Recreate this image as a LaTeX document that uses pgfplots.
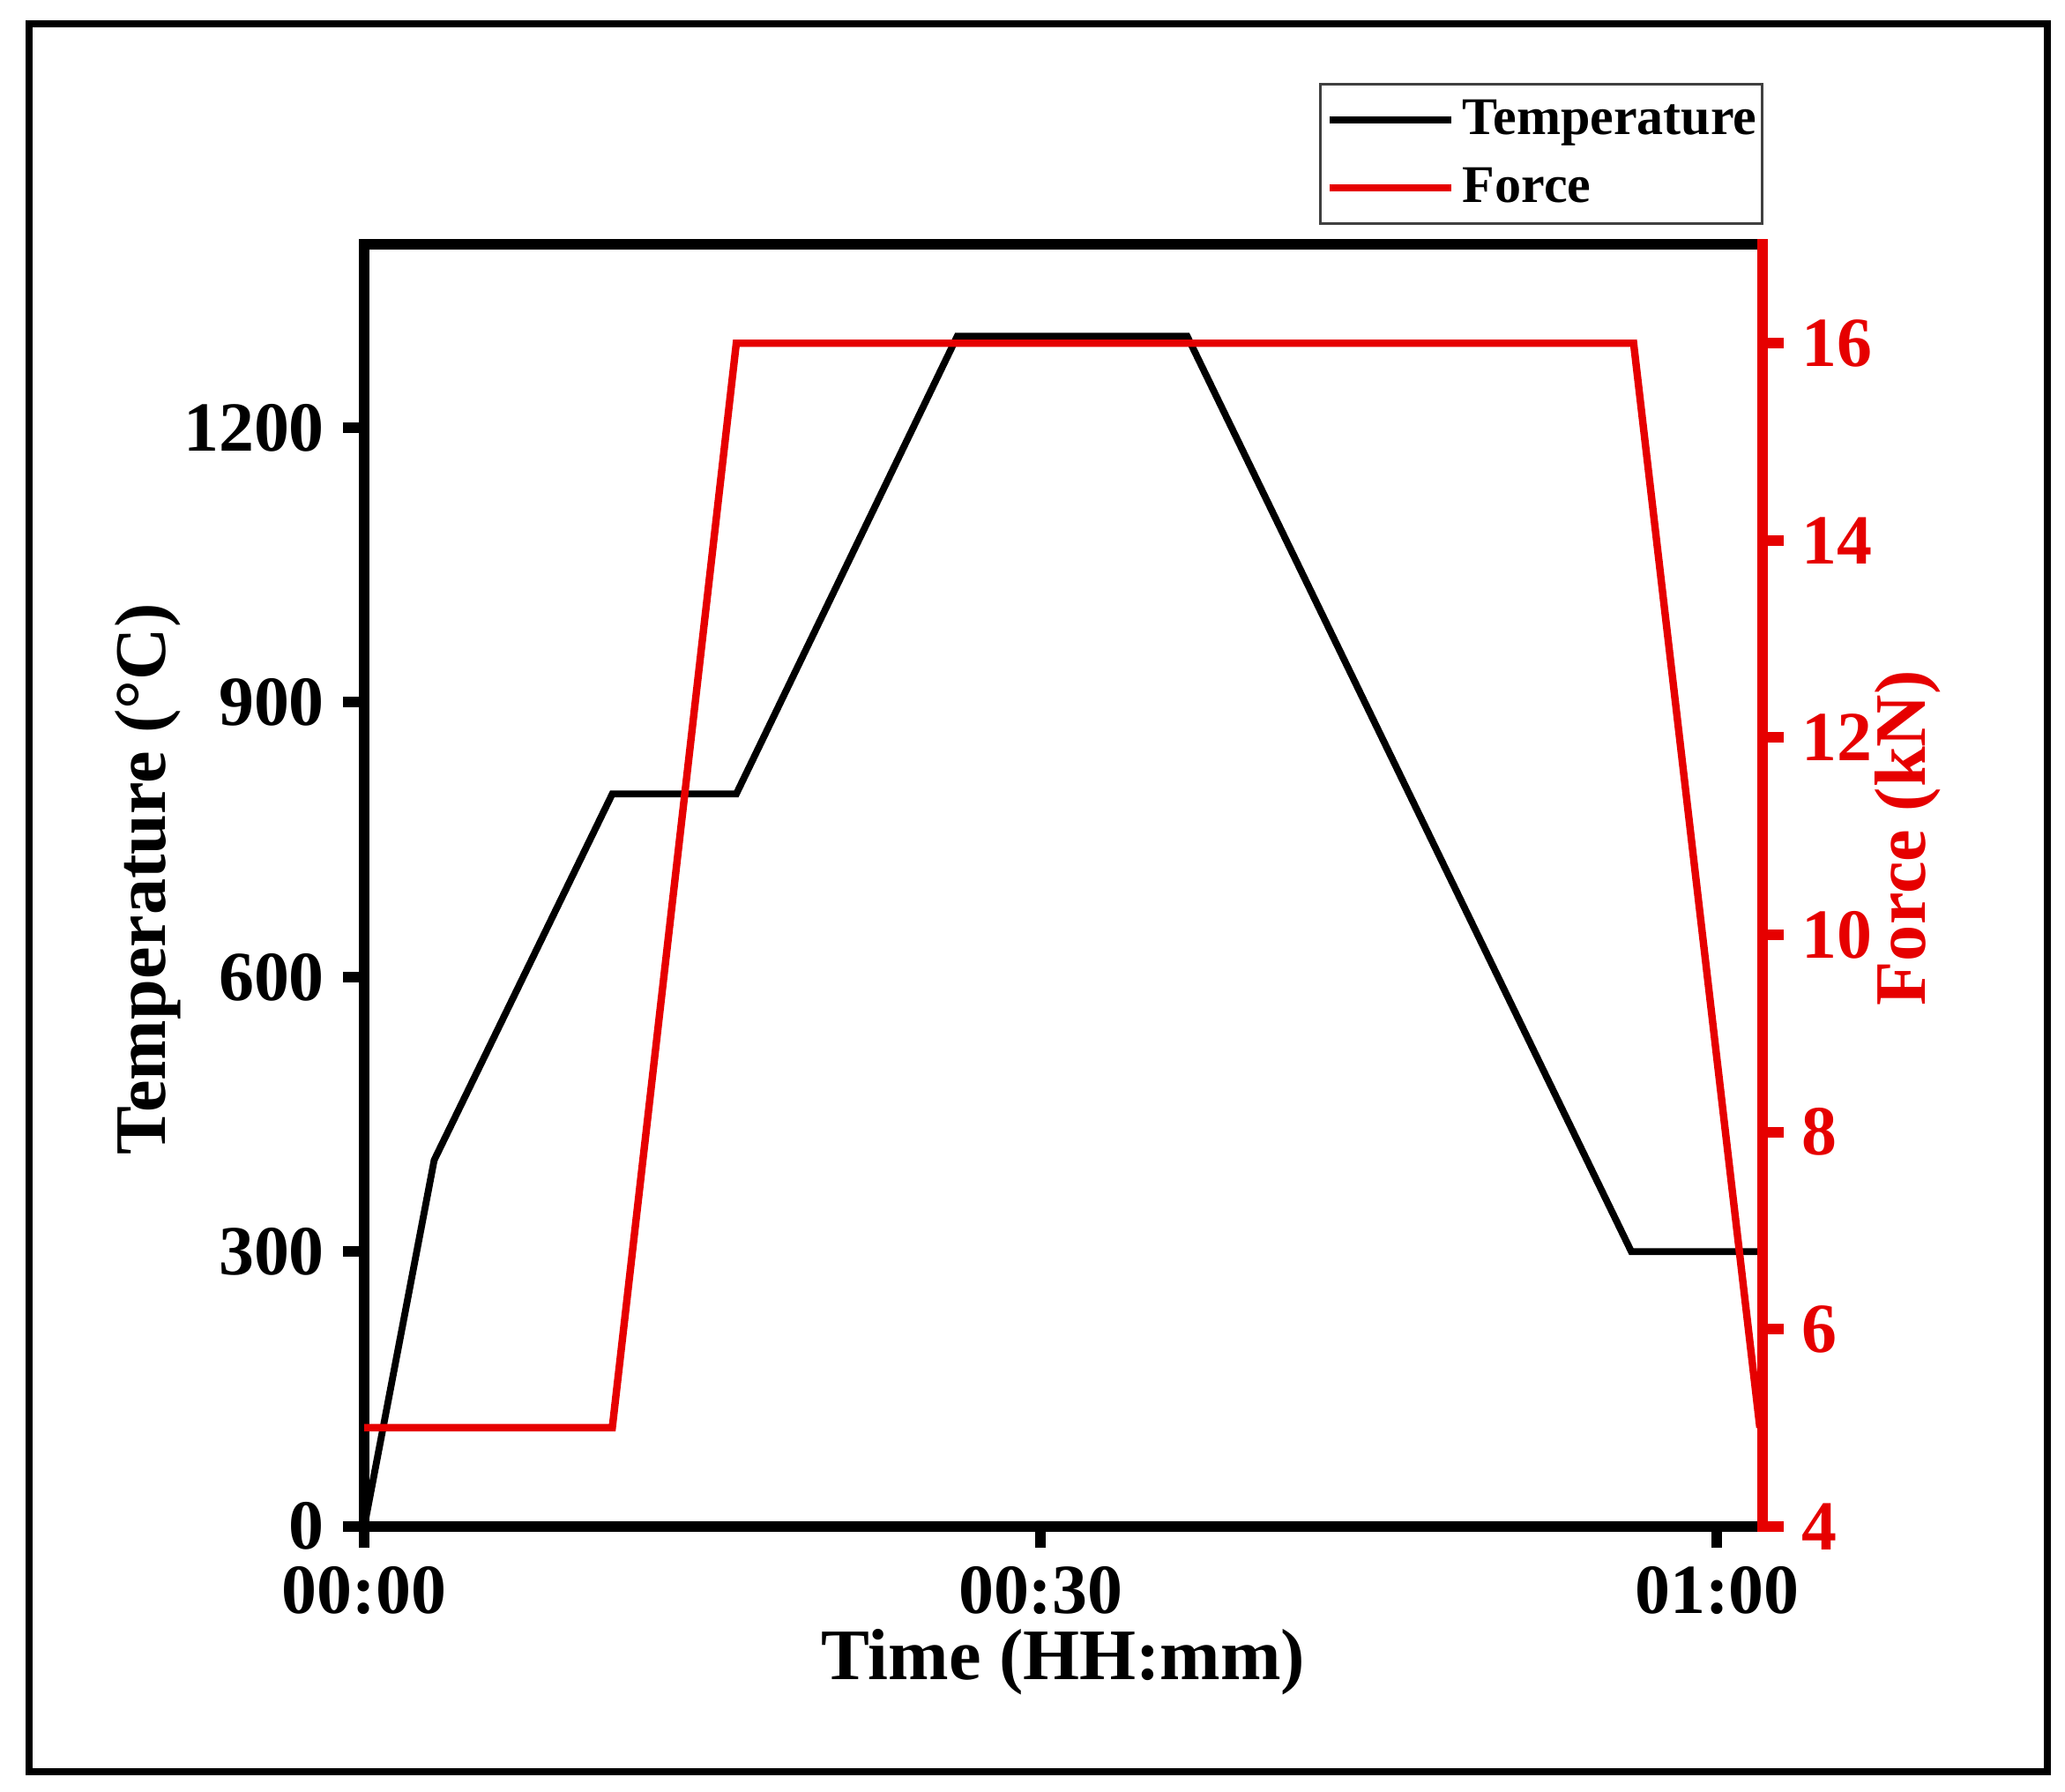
\documentclass[border=0pt]{standalone}
\usepackage{fontspec}
\setmainfont{Liberation Serif}
\usepackage{pgfplots}
\pgfplotsset{compat=1.18}
\definecolor{fred}{RGB}{230,0,0}

\begin{document}
\begin{tikzpicture}
\useasboundingbox (-68.8pt,-50.1pt) rectangle (321.2pt,288.2pt);
\fill[white] (-68.8pt,-50.1pt) rectangle (321.2pt,288.2pt);
\draw[line width=1.3pt] (-63.3pt,-46.3pt) rectangle (317.9pt,283.7pt);
\begin{axis}[
  name=ax1,
  at={(0pt,0pt)}, anchor=south west,
  scale only axis, width=264pt, height=242pt,
  xmin=0, xmax=62, ymin=0, ymax=1400,
  axis x line*=bottom, axis y line*=left,
  axis line style={line width=2pt, line cap=rect},
  xtick={0,30,60}, xticklabels={00:00,00:30,01:00},
  ytick={0,300,600,900,1200},
  minor tick num=0,
  tick align=outside, tick style={line width=2pt, black}, major tick length=4pt,
  tick label style={font=\fontsize{13.3}{14}\selectfont\bfseries},
  /pgf/number format/assume math mode=true,
  /pgf/number format/1000 sep={},
  xlabel={Time (HH:mm)}, ylabel={Temperature (°C)},
  every axis x label/.style={at={(axis description cs:0.5,-0.1195)}, anchor=base,
    font=\fontsize{13.7}{15}\selectfont\bfseries},
  every axis y label/.style={at={(axis description cs:-0.1549,0.505)}, rotate=90, anchor=center,
    font=\fontsize{13.7}{15}\selectfont\bfseries},
  legend style={at={(axis description cs:1,1)}, anchor=south east, yshift=3.7pt, xshift=0.3pt,
    draw=black!75, line width=0.6pt, font=\fontsize{10}{11}\selectfont\bfseries,
    inner xsep=1pt, inner ysep=0.25pt, column sep=1.5pt, row sep=0pt,
    nodes={inner sep=0pt, text height=9.2pt, text depth=3.7pt}},
  legend cell align=left,
  legend image code/.code={\draw[#1] (0pt,0pt) -- (23pt,0pt);},
]
\addplot[black, line width=1.3pt] coordinates {
(0,0) (3.1,400) (11.0,800) (16.5,800) (26.3,1300) (36.5,1300) (56.2,300) (62,300)};
\addlegendentry{Temperature}
\addlegendimage{fred, line width=1.4pt}
\addlegendentry{Force}
\end{axis}
\draw[line width=2pt, line cap=rect] (ax1.north west) -- (ax1.north east);
\begin{axis}[
  at={(0pt,0pt)}, anchor=south west,
  scale only axis, width=264pt, height=242pt,
  xmin=0, xmax=62, ymin=4, ymax=17,
  axis x line=none, axis y line*=right,
  axis line style={line width=2pt, fred, line cap=rect},
  ytick={4,6,8,10,12,14,16},
  minor tick num=0,
  tick align=outside, ytick style={line width=2pt, fred}, major tick length=4pt,
  yticklabel style={fred, font=\fontsize{13.3}{14}\selectfont\bfseries},
  /pgf/number format/assume math mode=true,
  ylabel={Force (kN)},
  every axis y label/.style={at={(axis description cs:1.1042,0.537)}, rotate=90, anchor=center,
    font=\fontsize{13.7}{15}\selectfont\bfseries, text=fred},
]
\addplot[fred, line width=1.4pt] coordinates {
(0,5) (11.0,5) (16.5,16) (56.3,16) (61.9,5)};
\end{axis}
\end{tikzpicture}
\end{document}
